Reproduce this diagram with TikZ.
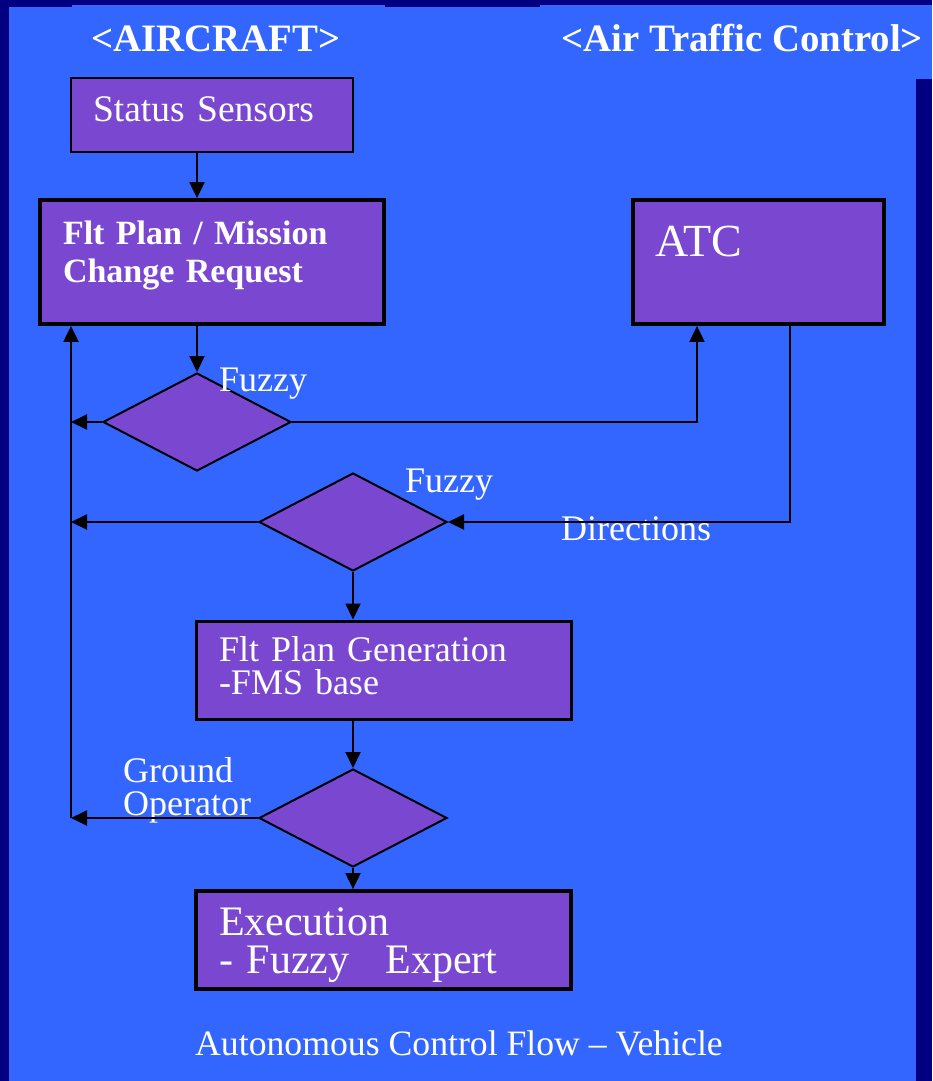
\documentclass[tikz,border=0pt]{standalone}
\usepackage{fontspec}
\setmainfont{Liberation Serif}
\usetikzlibrary{shapes.geometric,arrows.meta}
\definecolor{navy}{RGB}{0,0,128}
\definecolor{slide}{RGB}{51,102,255}
\definecolor{boxfill}{RGB}{122,72,208}
\begin{document}
\begin{tikzpicture}[x=1pt,y=-1pt,
  every node/.style={text=white,inner sep=0pt},
  proc/.style={draw=black,fill=boxfill,align=left,inner xsep=22pt,inner ysep=0pt},
  dec/.style={diamond,draw=black,line width=2pt,fill=boxfill,minimum width=188pt,minimum height=98pt,inner sep=0pt},
  flow/.style={line width=2pt,-{Triangle[length=16pt,width=15pt]}},
  lbl/.style={anchor=base west,align=left,font={\fontsize{36}{33}\selectfont}},
  heading/.style={anchor=base west,font={\fontsize{38.8}{40}\selectfont\bfseries}}]
\useasboundingbox (0,0) rectangle (932,1081);
% slide background
\fill[navy] (0,0) rectangle (932,1081);
\fill[slide] (9,7) rectangle (916,1081);
\fill[slide] (72,5) rectangle (385,79);
\fill[slide] (540,5) rectangle (932,79);
\node[heading] (acTitle) at (91,52) {<AIRCRAFT>};
\node[heading] (atcTitle) at (561,52) {<Air Traffic Control>};
% boxes
\node[proc,line width=2.6pt,text width=238pt,text height=43pt,text depth=31pt,font={\fontsize{37.5}{40}\selectfont}] (sensors) at (212,115) {Status Sensors};
\node[proc,line width=3.8pt,inner xsep=23pt,text width=298pt,text height=44pt,text depth=80pt,font={\fontsize{34}{38}\selectfont\bfseries}] (request) at (212,262) {Flt Plan / Mission\\Change Request};
\node[proc,line width=3.8pt,text width=207pt,text height=56pt,text depth=68pt,font={\fontsize{46}{50}\selectfont}] (atc) at (758.5,262) {ATC};
\node[proc,line width=3pt,inner xsep=23pt,text width=329pt,text height=40pt,text depth=58pt,font={\fontsize{36}{33}\selectfont}] (gen) at (383.5,670) {Flt Plan Generation\\-FMS base};
\node[proc,line width=3.8pt,inner xsep=23pt,text width=329pt,text height=44pt,text depth=54pt,font={\fontsize{42}{38}\selectfont}] (exec) at (383.5,940) {Execution\\-~Fuzzy\hspace{36pt}Expert};
% decisions
\node[dec] (d1) at (197,422) {};
\node[dec] (d2) at (353,522) {};
\node[dec] (d3) at (353,818) {};
\node[lbl] (fuzzy1) at (219,391) {Fuzzy};
\node[lbl] (fuzzy2) at (405,492) {Fuzzy};
\node[lbl] (dirs) at (561,540) {Directions};
\node[lbl,text width=160pt] (ground) at (123,782) {Ground\\Operator};
% flow
\coordinate (atcin) at ([xshift=-61.5pt]atc.south);
\coordinate (atcout) at ([xshift=31.5pt]atc.south);
\coordinate (bus) at (71,818);
\draw[flow] (sensors.south -| d1.north) -- (request.north -| d1.north);
\draw[flow] (request.south -| d1.north) -- (d1.north);
\draw[flow] (d1.east) -| (atcin);
\draw[flow] (atcout) |- (d2.east);
\draw[flow] (d2.south) -- (d2.south |- gen.north);
\draw[flow] (gen.south -| d3.north) -- (d3.north);
\draw[flow] (d3.south) -- (d3.south |- exec.north);
\draw[flow] (bus) -- (bus |- request.south);
\draw[flow] (d1.west) -- (d1.west -| bus);
\draw[flow] (d2.west) -- (d2.west -| bus);
\draw[flow] (d3.west) -- (bus);
\node[anchor=base west,font={\fontsize{35.7}{38}\selectfont}] (caption) at (195,1055) {Autonomous Control Flow -- Vehicle};
\end{tikzpicture}
\end{document}
